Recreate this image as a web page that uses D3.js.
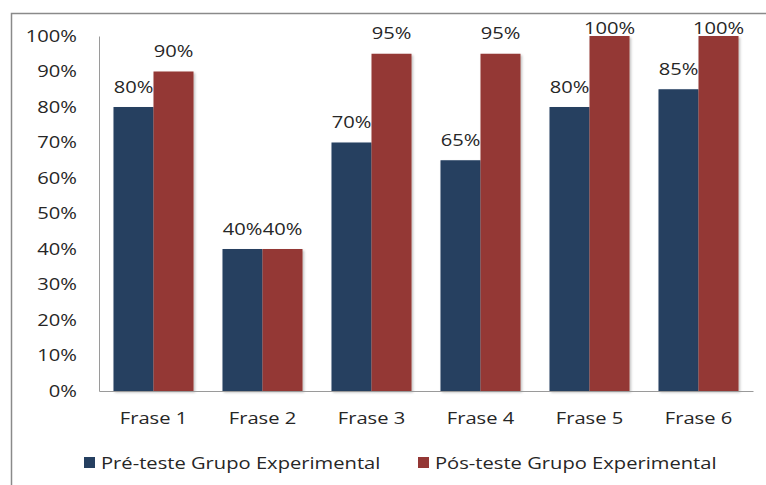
<!DOCTYPE html>
<html>
<head>
<meta charset="utf-8">
<script src="https://cdn.jsdelivr.net/npm/d3@7"></script>
<style>
  body { margin: 0; background: #fff; }
  svg { display: block; font-family: "Open Sans", sans-serif; }
</style>
</head>
<body>
<svg id="chart" width="766" height="485"></svg>
<script>
const categories = ["Frase 1", "Frase 2", "Frase 3", "Frase 4", "Frase 5", "Frase 6"];
const seriesNames = ["Pré-teste Grupo Experimental", "Pós-teste Grupo Experimental"];
const preTeste = [80, 40, 70, 65, 80, 85];
const posTeste = [90, 40, 95, 95, 100, 100];
const yTicks = [0, 10, 20, 30, 40, 50, 60, 70, 80, 90, 100];

const colors = ["#253f60", "#943735"];
const margin = {top: 36, left: 99, right: 13, bottom: 94};
const width = 766, height = 485;
const fontSize = 16;
const textColor = "#262626";
// the original text is a bit wider than any installed font, so stretch it
const sx = 1.26;

const stretch = sel => sel.each(function() {
    const t = d3.select(this);
    const x0 = +t.attr("x") || 0;
    t.attr("x", x0 / sx).attr("transform", `scale(${sx},1)`);
});

const svg = d3.select("#chart");

// outer frame (runs off the right and bottom edge in the original)
svg.append("path")
    .attr("d", "M11.5,490 V13.5 H770")
    .attr("fill", "none")
    .attr("stroke", "#8a8a8a")
    .attr("stroke-width", 1.5);

const x = d3.scaleBand()
    .domain(categories)
    .range([margin.left, width - margin.right])
    .paddingInner(0.266)
    .paddingOuter(0.133);

const x1 = d3.scaleBand()
    .domain([0, 1])
    .range([0, x.bandwidth()]);

const y = d3.scaleLinear()
    .domain([0, 100])
    .range([height - margin.bottom, margin.top]);

const rows = categories.map((c, i) => ({cat: c, vals: [preTeste[i], posTeste[i]]}));

const defs = svg.append("defs");
defs.append("filter").attr("id", "shadow")
    .attr("x", "-10%").attr("y", "-10%").attr("width", "130%").attr("height", "130%")
  .append("feDropShadow")
    .attr("dx", 1.5).attr("dy", 1.5).attr("stdDeviation", 1)
    .attr("flood-color", "#000").attr("flood-opacity", 0.25);

const groups = svg.append("g").selectAll("g")
    .data(rows)
    .join("g")
    .attr("transform", d => `translate(${x(d.cat)},0)`);

groups.selectAll("rect")
    .data(d => d.vals.map((v, k) => ({k, v})))
    .join("rect")
    .attr("x", d => x1(d.k))
    .attr("y", d => y(d.v))
    .attr("width", x1.bandwidth())
    .attr("height", d => y(0) - y(d.v))
    .attr("fill", d => colors[d.k])
    .attr("filter", "url(#shadow)");

// labels sit ~20px above the bar, but never above the top of the plot
groups.selectAll("text")
    .data(d => d.vals.map((v, k) => ({k, v})))
    .join("text")
    .attr("x", d => x1(d.k) + x1.bandwidth() / 2)
    .attr("y", d => Math.max(y(d.v) - 20, 28))
    .attr("dy", "0.35em")
    .attr("text-anchor", "middle")
    .attr("font-size", fontSize)
    .attr("fill", textColor)
    .text(d => d.v + "%")
    .call(stretch);

// y axis
const yAxis = svg.append("g")
    .attr("transform", `translate(${margin.left},0)`)
    .call(d3.axisLeft(y).tickValues(yTicks).tickSize(0).tickPadding(22).tickFormat(d => d + "%"));
yAxis.select(".domain").attr("stroke", "#9a9a9a").attr("stroke-width", 1);
yAxis.selectAll("text").attr("font-size", fontSize).attr("fill", textColor)
    .attr("font-family", "'Open Sans', sans-serif")
    .call(stretch);

// x axis
const xAxis = svg.append("g")
    .attr("transform", `translate(0,${y(0)})`)
    .call(d3.axisBottom(x).tickSize(0).tickPadding(22));
xAxis.select(".domain").attr("stroke", "#9a9a9a").attr("stroke-width", 1);
xAxis.selectAll("text").attr("font-size", fontSize).attr("fill", textColor)
    .attr("font-family", "'Open Sans', sans-serif")
    .call(stretch);

// legend
const legendX = [84, 418];
const legend = svg.append("g").selectAll("g")
    .data(seriesNames)
    .join("g")
    .attr("transform", (d, i) => `translate(${legendX[i]},457)`);
legend.append("rect")
    .attr("width", 11).attr("height", 11)
    .attr("fill", (d, i) => colors[i]);
legend.append("text")
    .attr("x", 17).attr("y", 6)
    .attr("dy", "0.35em")
    .attr("font-size", fontSize)
    .attr("fill", textColor)
    .text(d => d)
    .call(stretch);
</script>
</body>
</html>
